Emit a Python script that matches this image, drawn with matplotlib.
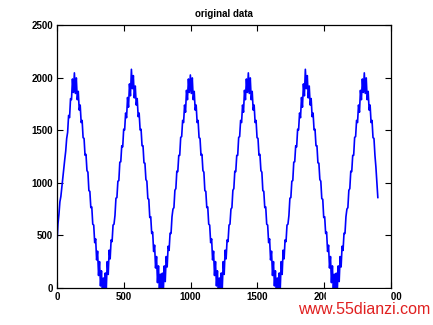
import numpy as np
import matplotlib
matplotlib.use("Agg")
import matplotlib.pyplot as plt
from matplotlib.patches import Rectangle

# signal samples (one sample every SAMPLE_STEP units on x)
SAMPLE_STEP = 7.2333
signal = [
    # period 1
    430, 610, 700, 820, 870, 960, 1050, 1140, 1220, 1300,
    1420, 1480, 1640, 1620, 1800, 1790, 1987, 1859, 2045, 1849,
    1997, 1790, 1869, 1691, 1739, 1573, 1593, 1429, 1422, 1262,
    1270, 1116, 1101, 925, 919, 764, 770, 607, 598, 431,
    467, 267, 350, 119, 251, 20, 163, -79, 95, -89,
    143, -10, 251, 129, 360, 277, 457, 441, 598, 607,
    # period 2
    690, 854, 859, 1015, 1021, 1196, 1200, 1352, 1342, 1509,
    1503, 1663, 1619, 1811, 1719, 1940, 1827, 2079, 1895, 2019,
    1807, 1920, 1739, 1801, 1629, 1663, 1503, 1509, 1352, 1352,
    1190, 1186, 1031, 1015, 849, 844, 670, 677, 518, 531,
    347, 407, 190, 299, 51, 210, -37, 131, -125, 141,
    -37, 210, 61, 299, 200, 397, 357, 521, 518, 677,
    # period 3
    750, 764, 929, 945, 1111, 1106, 1260, 1262, 1432, 1439,
    1593, 1573, 1739, 1671, 1879, 1790, 1987, 1859, 2025, 1849,
    1997, 1790, 1869, 1691, 1739, 1573, 1593, 1429, 1422, 1262,
    1270, 1116, 1101, 925, 919, 764, 770, 607, 598, 431,
    467, 267, 350, 119, 251, 20, 163, -79, 95, -89,
    143, -10, 251, 129, 360, 277, 457, 441, 598, 607,
    # period 4
    750, 764, 929, 945, 1111, 1106, 1260, 1262, 1432, 1439,
    1593, 1573, 1739, 1671, 1879, 1790, 1987, 1859, 2045, 1849,
    1997, 1790, 1869, 1691, 1739, 1573, 1593, 1429, 1422, 1262,
    1270, 1116, 1101, 925, 919, 764, 770, 607, 598, 431,
    467, 267, 350, 119, 251, 20, 163, -79, 95, -89,
    143, -10, 251, 129, 360, 277, 457, 441, 598, 607,
    # period 5
    690, 854, 859, 1015, 1021, 1196, 1200, 1352, 1342, 1509,
    1503, 1663, 1619, 1811, 1719, 1940, 1827, 2079, 1895, 2019,
    1807, 1920, 1739, 1801, 1629, 1663, 1503, 1509, 1352, 1352,
    1190, 1186, 1031, 1015, 849, 844, 670, 677, 518, 531,
    347, 407, 190, 299, 51, 210, -37, 131, -125, 141,
    -37, 210, 61, 299, 200, 397, 357, 521, 518, 677,
    # period 6 (cut short)
    750, 764, 929, 945, 1111, 1106, 1260, 1262, 1432, 1439,
    1593, 1573, 1739, 1671, 1879, 1790, 1987, 1859, 2045, 1849,
    1997, 1790, 1869, 1691, 1739, 1573, 1593, 1429, 1422, 1262,
    1150, 1000, 860,
]

x_ticks = [0, 500, 1000, 1500, 2000, 2500]
y_ticks = [0, 500, 1000, 1500, 2000, 2500]
title = "original data"
watermark = "www.55dianzi.com"


def main():
    fig = plt.figure(figsize=(4.33, 3.25), dpi=100)
    ax = fig.add_axes([57 / 433, 37 / 325, 334 / 433, 263 / 325])

    x = np.arange(len(signal)) * SAMPLE_STEP
    ax.plot(x, signal, color="#0000ff", linewidth=1.2)

    ax.set_xlim(0, 2500)
    ax.set_ylim(0, 2500)
    ax.set_xticks(x_ticks)
    ax.set_yticks(y_ticks)
    ax.set_xticklabels([str(t) for t in x_ticks])
    ax.set_yticklabels([str(t) for t in y_ticks])

    # matlab look: ticks inside on every side, bold small labels
    ax.tick_params(direction="in", length=4, width=0.8, top=True, right=True,
                   labelsize=7, pad=3)
    for lab in ax.get_xticklabels() + ax.get_yticklabels():
        lab.set_fontweight("bold")
        lab.set_family("Liberation Sans")
    for sp in ax.spines.values():
        sp.set_linewidth(0.9)

    ax.set_title(title, fontsize=7, fontweight="bold", family="Liberation Sans", pad=6)

    # watermark with its white background hiding part of the x labels
    fig.add_artist(Rectangle((326 / 433, 17 / 325), 65 / 433, 19 / 325,
                             transform=fig.transFigure, facecolor="white",
                             edgecolor="none", zorder=5))
    fig.text(298 / 433, 11 / 325, watermark, color="#e02020", fontsize=11.5,
             family="Liberation Sans", ha="left", va="baseline", zorder=6)

    fig.savefig("out.png", dpi=100)
    plt.close(fig)


if __name__ == "__main__":
    main()
